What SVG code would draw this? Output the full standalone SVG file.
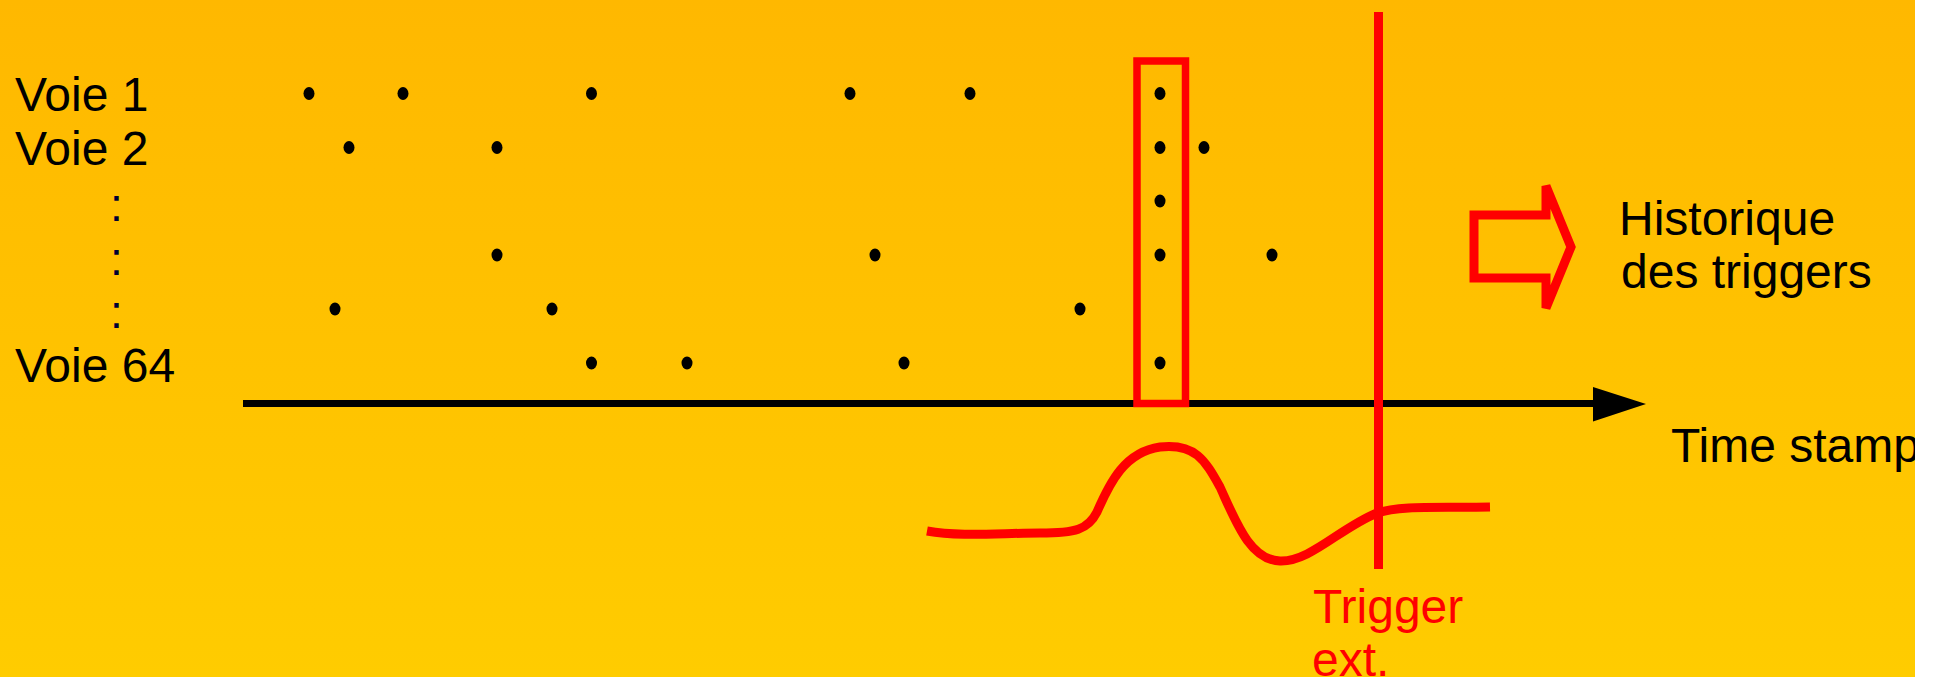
<svg xmlns="http://www.w3.org/2000/svg" width="1936" height="677" viewBox="0 0 1936 677">
  <defs>
    <linearGradient id="bg" x1="0" y1="0" x2="0" y2="1">
      <stop offset="0" stop-color="#FFB800"/>
      <stop offset="1" stop-color="#FFCC00"/>
    </linearGradient>
    <style>
      .lbl { font-family: "Liberation Sans", Arial, sans-serif; font-size: 48px; fill: #000000; }
      .big { font-family: "Liberation Sans", Arial, sans-serif; font-size: 48px; fill: #000000; }
      .colon { font-family: "Liberation Sans", Arial, sans-serif; font-size: 46px; fill: #000033; }
      .red { font-family: "Liberation Sans", Arial, sans-serif; font-size: 48px; fill: #FF0000; }
      .dot { fill: #000000; }
      .rs { fill: none; stroke: #FF0000; }
    </style>
  </defs>
  <rect x="0" y="0" width="1936" height="677" fill="#FFFFFF"/>
  <rect x="0" y="0" width="1915" height="677" fill="url(#bg)"/>

  <g id="connectors">
    <line x1="243" y1="403.5" x2="1596" y2="403.5" stroke="#000000" stroke-width="7"/>
    <polygon points="1593,387 1646,404 1593,421.5" fill="#000000"/>
  </g>

  <g id="labels">
    <text class="lbl" x="15" y="111">Voie 1</text>
    <text class="lbl" x="15" y="165">Voie 2</text>
    <text class="colon" x="110" y="221">:</text>
    <text class="colon" x="110" y="275">:</text>
    <text class="colon" x="110" y="328">:</text>
    <text class="lbl" x="15" y="382">Voie 64</text>
  </g>

  <g id="coincidence-window">
    <rect class="rs" x="1137" y="61" width="48.5" height="342.5" stroke-width="7.5"/>
  </g>

  <g id="trigger-line">
    <line x1="1378.5" y1="12" x2="1378.5" y2="569" stroke="#FF0000" stroke-width="9"/>
  </g>

  <g id="hits">
    <ellipse class="dot" cx="309" cy="93.5" rx="5.5" ry="6.5"/>
    <ellipse class="dot" cx="403" cy="93.5" rx="5.5" ry="6.5"/>
    <ellipse class="dot" cx="591.5" cy="93.5" rx="5.5" ry="6.5"/>
    <ellipse class="dot" cx="850" cy="93.5" rx="5.5" ry="6.5"/>
    <ellipse class="dot" cx="970" cy="93.5" rx="5.5" ry="6.5"/>
    <ellipse class="dot" cx="1160" cy="93.5" rx="5.5" ry="6.5"/>

    <ellipse class="dot" cx="349" cy="147.5" rx="5.5" ry="6.5"/>
    <ellipse class="dot" cx="497" cy="147.5" rx="5.5" ry="6.5"/>
    <ellipse class="dot" cx="1160" cy="147.5" rx="5.5" ry="6.5"/>
    <ellipse class="dot" cx="1204" cy="147.5" rx="5.5" ry="6.5"/>

    <ellipse class="dot" cx="1160" cy="201" rx="5.5" ry="6.5"/>

    <ellipse class="dot" cx="497" cy="255" rx="5.5" ry="6.5"/>
    <ellipse class="dot" cx="875" cy="255" rx="5.5" ry="6.5"/>
    <ellipse class="dot" cx="1160" cy="255" rx="5.5" ry="6.5"/>
    <ellipse class="dot" cx="1272" cy="255" rx="5.5" ry="6.5"/>

    <ellipse class="dot" cx="335" cy="309" rx="5.5" ry="6.5"/>
    <ellipse class="dot" cx="552" cy="309" rx="5.5" ry="6.5"/>
    <ellipse class="dot" cx="1080" cy="309" rx="5.5" ry="6.5"/>

    <ellipse class="dot" cx="591.5" cy="363" rx="5.5" ry="6.5"/>
    <ellipse class="dot" cx="687" cy="363" rx="5.5" ry="6.5"/>
    <ellipse class="dot" cx="904" cy="363" rx="5.5" ry="6.5"/>
    <ellipse class="dot" cx="1160" cy="363" rx="5.5" ry="6.5"/>
  </g>

  <g id="signal">
    <path class="rs" stroke-width="9" d="M 927,531 C 960,537 1000,533 1040,533 C 1075,533 1088,530 1097,512 C 1110,482 1125,452 1160,447 C 1195,443 1205,460 1220,487 C 1236,522 1250,560 1280,561 C 1310,562 1340,528 1377,513 C 1400,505 1440,508 1490,507"/>
  </g>

  <g id="history-arrow">
    <polygon class="rs" stroke-width="9" stroke-linejoin="miter" stroke-miterlimit="2" points="1474,215 1546,215 1546,186 1571,247 1546,308 1546,278 1474,278"/>
    <text class="big" x="1619" y="235">Historique</text>
    <text class="big" x="1621" y="288">des triggers</text>
  </g>

  <g id="time-label">
    <text class="big" x="1671" y="462">Time stamp</text>
  </g>

  <g id="trigger-label">
    <text class="red" x="1313" y="623">Trigger</text>
    <text class="red" x="1312" y="676">ext.</text>
  </g>

  <rect x="1915" y="0" width="21" height="677" fill="#FFFFFF"/>
</svg>
